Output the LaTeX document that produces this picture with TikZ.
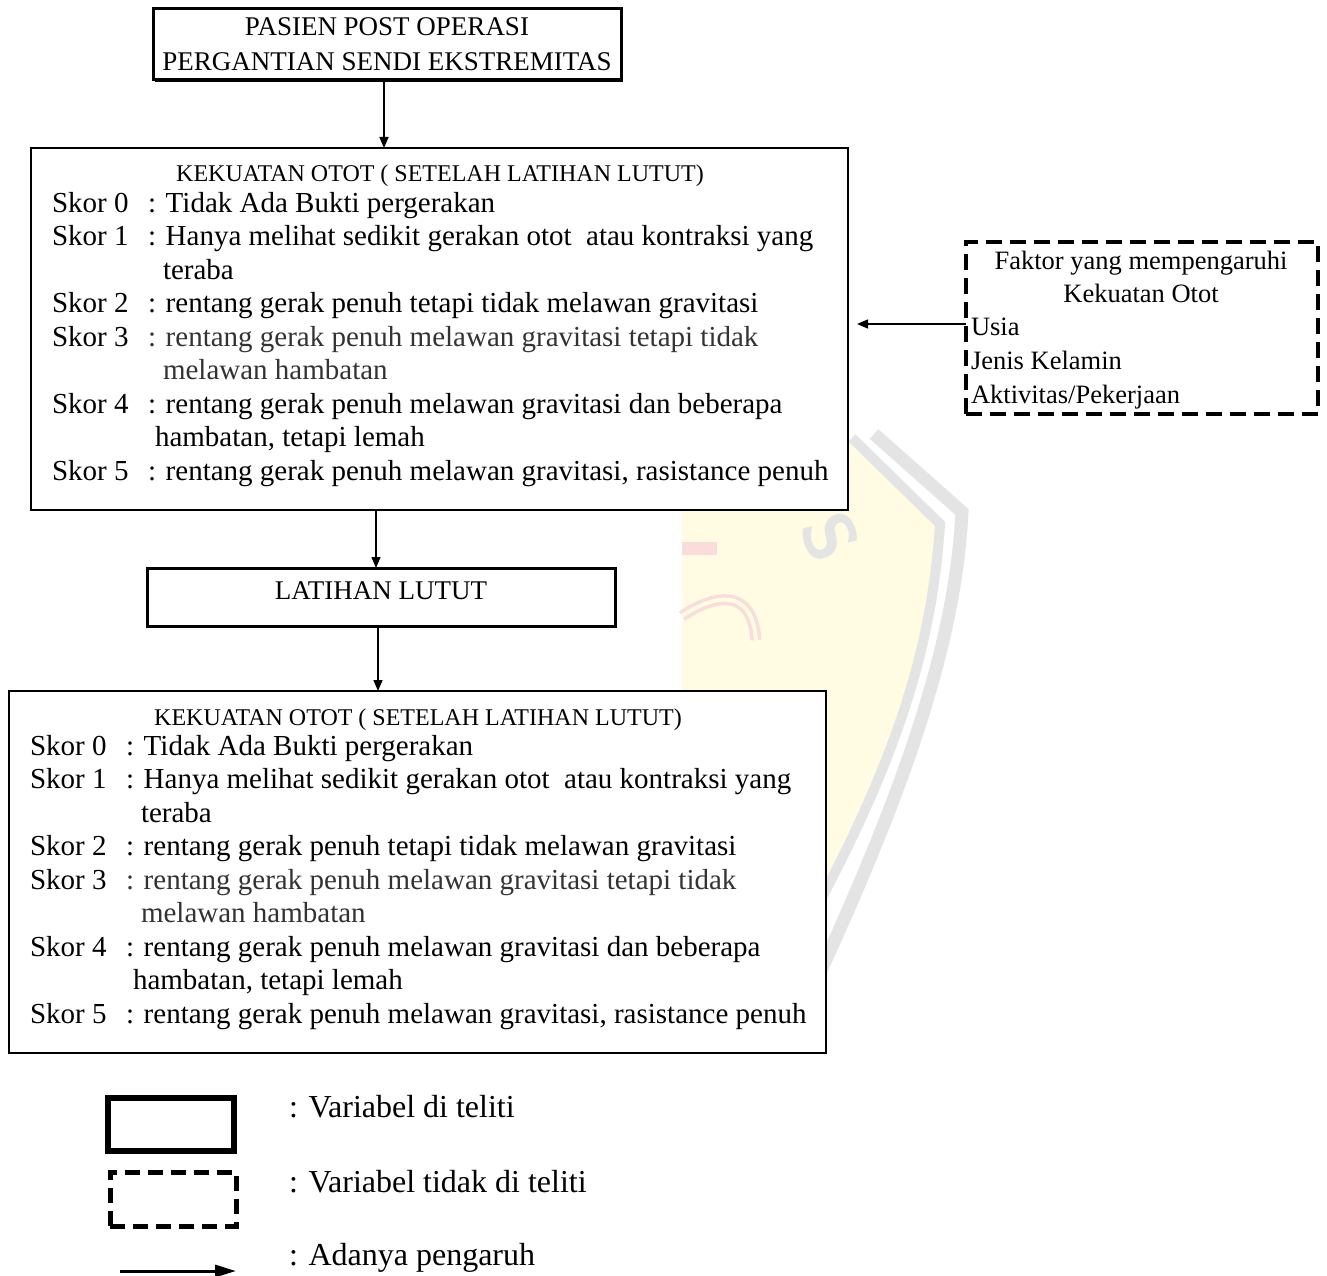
\documentclass[tikz,border=0pt]{standalone}
\usepackage{fontspec}
\setmainfont{Liberation Serif}
\usetikzlibrary{arrows.meta,shadows}
\definecolor{wmy}{HTML}{FFFCE3}
\definecolor{wmg}{HTML}{E4E4E4}
\definecolor{wmp}{HTML}{FADCDC}
\tikzset{
  every node/.style={inner sep=0pt, outer sep=0pt},
  thickbox/.style={draw, line width=3pt, fill=white,
    drop shadow={opacity=1, shadow xshift=1.8pt, shadow yshift=-1.8pt, fill=black}},
  thinbox/.style={draw, line width=2pt, fill=white},
  dbox/.style={draw, line width=4pt, dash pattern=on 16pt off 8pt},
  arr/.style={line width=1.5pt, -{Triangle[length=11pt,width=9pt]}},
  ln/.style={anchor=base west, font=\fontsize{29}{33}\selectfont},
  fk/.style={font=\fontsize{26.5}{30}\selectfont},
  lgt/.style={anchor=base west, font=\fontsize{32}{36}\selectfont},
  scorebox/.pic={
    \node[thinbox, minimum width=817pt, minimum height=362pt, anchor=north west] (-box) at (0,0) {};
    \node[anchor=base, font=\fontsize{24}{28}\selectfont] (-title) at (409,34) {KEKUATAN OTOT ( SETELAH LATIHAN LUTUT)};
    \node[ln] (-s0) at (21,64) {Skor 0};
    \node[ln] (-t0) at (117,64) {: Tidak Ada Bukti pergerakan};
    \node[ln] (-s1) at (21,97.5) {Skor 1};
    \node[ln] (-t1) at (117,97.5) {: Hanya melihat sedikit gerakan otot\ \ atau kontraksi yang};
    \node[ln] (-c1) at (132,131) {teraba};
    \node[ln] (-s2) at (21,164.5) {Skor 2};
    \node[ln] (-t2) at (117,164.5) {: rentang gerak penuh tetapi tidak melawan gravitasi};
    \node[ln] (-s3) at (21,198) {Skor 3};
    \node[ln, text=black!80] (-t3) at (117,198) {: rentang gerak penuh melawan gravitasi tetapi tidak};
    \node[ln, text=black!80] (-c3) at (132,231.5) {melawan hambatan};
    \node[ln] (-s4) at (21,265) {Skor 4};
    \node[ln] (-t4) at (117,265) {: rentang gerak penuh melawan gravitasi dan beberapa};
    \node[ln] (-c4) at (124,298.5) {hambatan, tetapi lemah};
    \node[ln] (-s5) at (21,332) {Skor 5};
    \node[ln] (-t5) at (117,332) {: rentang gerak penuh melawan gravitasi, rasistance penuh};
  }
}
\begin{document}
\begin{tikzpicture}[x=1pt, y=-1pt]
\useasboundingbox[fill=white] (0,0) rectangle (1327,1276);

% faint watermark in the background
\fill[wmy] (682,440) -- (858,440) -- (936,522) .. controls (928,650) and (892,760) .. (818,905) -- (682,905) -- cycle;
\draw[wmg, line width=13pt] (874,434) -- (962,512) .. controls (955,650) and (900,800) .. (812,990);
\draw[wmg, line width=10pt] (852,438) -- (940,524) .. controls (932,650) and (895,760) .. (818,905);
\fill[wmp] (682,542) rectangle (717,555);
\draw[wmp, line width=11pt] (682,616) .. controls (712,596) and (752,585) .. (756,640);
\draw[wmy, line width=4pt] (682,616) .. controls (712,596) and (752,585) .. (756,640);
\node[text=wmg, rotate=-65, font=\fontsize{72}{72}\selectfont\sffamily\bfseries] (wmS) at (830,537) {S};

% top box
\node[thickbox, minimum width=468pt, minimum height=71pt, align=center,
      font=\fontsize{27}{35}\selectfont] (b1) at (387,44.5)
      {PASIEN POST OPERASI\\PERGANTIAN SENDI EKSTREMITAS};

% score boxes
\pic (k1) at (31,148) {scorebox};
\pic (k2) at (9,691) {scorebox};

% latihan box
\node[thickbox, minimum width=468pt, minimum height=58pt, text height=18pt, text depth=14pt,
      font=\fontsize{27}{30}\selectfont] (lat) at (381,597) {LATIHAN LUTUT};

% factor box
\node[dbox, minimum width=352pt, minimum height=172pt] (db) at (1142,328) {};
\node[fk, anchor=base] (f1) at (1141,269) {Faktor yang mempengaruhi};
\node[fk, anchor=base] (f2) at (1141,302) {Kekuatan Otot};
\node[fk, anchor=base west] (f3) at (971,335) {Usia};
\node[fk, anchor=base west] (f4) at (971,369) {Jenis Kelamin};
\node[fk, anchor=base west] (f5) at (971,403) {Aktivitas/Pekerjaan};

% connectors
\draw[arr] ([xshift=-3pt]b1.south) -- ([xshift=-3pt]b1.south |- k1-box.north);
\draw[arr] ([xshift=-5pt]lat.north |- k1-box.south) -- ([xshift=-5pt]lat.north);
\draw[arr] ([xshift=-3pt]lat.south) -- ([xshift=-3pt]lat.south |- k2-box.north);
\draw[arr, shorten >=9pt] ([yshift=4pt]db.west) -- ([yshift=4pt]db.west -| k1-box.east);

% legend
\node[draw, line width=5.5pt, minimum width=126pt, minimum height=53pt] (lg1) at (171,1124.5) {};
\node[lgt] (lt1) at (289,1117) {: Variabel di teliti};
\node[draw, line width=5pt, dash pattern=on 15pt off 8pt, minimum width=126pt, minimum height=54pt] (lg2) at (173,1199) {};
\node[lgt] (lt2) at (289,1192) {: Variabel tidak di teliti};
\coordinate (la) at (120,1271);
\coordinate (lb) at (236,1271);
\draw[line width=3pt, -{Triangle[length=21pt,width=12pt]}] (la) -- (lb);
\node[lgt] (lt3) at (289,1265) {: Adanya pengaruh};
\end{tikzpicture}
\end{document}
